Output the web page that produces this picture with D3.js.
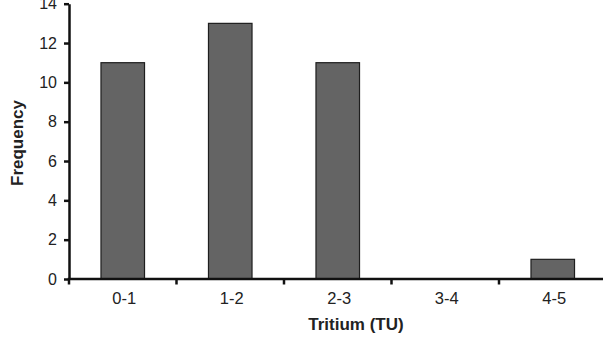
<!DOCTYPE html>
<html>
<head>
<meta charset="utf-8">
<script src="https://cdn.jsdelivr.net/npm/d3@7"></script>
<style>
  html, body { margin: 0; padding: 0; background: #fff; }
  svg { display: block; }
</style>
</head>
<body>
<div id="chart"></div>
<script>
// Tritium frequency histogram
const categories = ["0-1", "1-2", "2-3", "3-4", "4-5"];
const frequency = [11, 13, 11, 0, 1];
const yTicks = [0, 2, 4, 6, 8, 10, 12, 14];

const width = 603, height = 344;
const marginLeft = 69, plotRight = 606.5, plotTop = 3.7, plotBottom = 279;
const textColor = "#222";

const svg = d3.select("#chart").append("svg")
    .attr("width", width)
    .attr("height", height)
    .attr("font-family", "'Liberation Sans', Arial, sans-serif");

const y = d3.scaleLinear().domain([0, 14]).range([plotBottom, plotTop]);

// bands for tick marks (category boundaries) and for the bars themselves
const xOuter = d3.scaleBand().domain(categories).range([marginLeft, plotRight]);
const x = d3.scaleBand().domain(categories).range([marginLeft, plotRight])
    .paddingInner(0.595).paddingOuter(0.2975);

// bars
svg.append("g")
  .selectAll("rect")
  .data(categories.map((c, i) => ({c, v: frequency[i]})).filter(d => d.v > 0))
  .join("rect")
    .attr("x", d => x(d.c))
    .attr("y", d => y(d.v))
    .attr("width", x.bandwidth())
    .attr("height", d => y(0) - y(d.v))
    .attr("fill", "#646464")
    .attr("stroke", "#1e1e1e")
    .attr("stroke-width", 1.2);

// y axis
const yAxis = svg.append("g")
    .attr("transform", `translate(${marginLeft},0)`)
    .call(d3.axisLeft(y).tickValues(yTicks).tickSize(5).tickPadding(7).tickSizeOuter(0));
yAxis.select(".domain").attr("stroke", "#111").attr("stroke-width", 2.5);
yAxis.selectAll(".tick line").attr("stroke", "#111").attr("stroke-width", 2.5);
yAxis.selectAll(".tick text")
    .attr("fill", textColor)
    .attr("font-size", 16)
    .attr("font-family", "'Liberation Sans', Arial, sans-serif");

// x axis: line + boundary ticks
const xAxis = svg.append("g").attr("transform", `translate(0,${plotBottom})`);
xAxis.append("line")
    .attr("x1", marginLeft - 1.25).attr("x2", plotRight)
    .attr("stroke", "#111").attr("stroke-width", 2.5);
xAxis.selectAll(".bt")
  .data(categories)
  .join("line")
    .attr("class", "bt")
    .attr("x1", d => xOuter(d)).attr("x2", d => xOuter(d))
    .attr("y1", 0).attr("y2", 5.5)
    .attr("stroke", "#111").attr("stroke-width", 2.5);
xAxis.selectAll("text")
  .data(categories)
  .join("text")
    .attr("x", d => xOuter(d) + xOuter.bandwidth() / 2 + 1.5)
    .attr("y", 25.3)
    .attr("text-anchor", "middle")
    .attr("font-size", 16.5)
    .attr("fill", textColor)
    .text(d => d);

// axis titles
svg.append("text")
    .attr("x", 356)
    .attr("y", 330)
    .attr("text-anchor", "middle")
    .attr("font-size", 17)
    .attr("font-weight", "bold")
    .attr("fill", textColor)
    .text("Tritium (TU)");

svg.append("text")
    .attr("transform", "translate(22.5,143) rotate(-90)")
    .attr("text-anchor", "middle")
    .attr("font-size", 17)
    .attr("font-weight", "bold")
    .attr("fill", textColor)
    .text("Frequency");
</script>
</body>
</html>
